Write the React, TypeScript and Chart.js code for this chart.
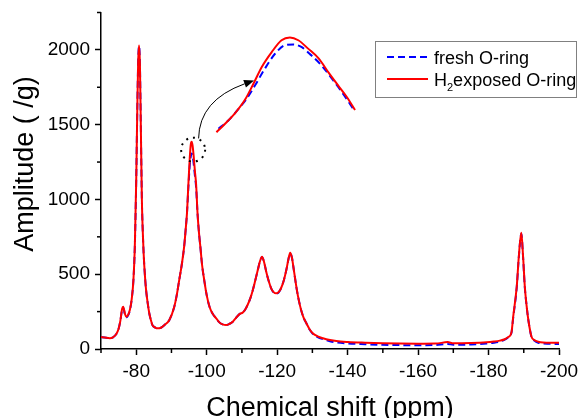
import React, { useEffect, useRef } from "react";
import { Chart, registerables } from "chart.js";

Chart.register(...registerables);

// ---- Data ----
const ppm = [
  -70.0, -71.0, -72.5, -73.5, -74.3, -75.0, -75.5, -76.0, -76.3, -76.8, -77.2, -77.7, -78.2, -78.7, -79.2, -79.6,
  -80.0, -80.3, -80.55, -80.8, -81.05, -81.3, -81.6, -81.85, -82.1, -82.5, -82.8, -83.3, -83.7, -84.2, -84.6,
  -85.3, -86.1, -87.0, -88.0, -89.4, -90.8, -91.5, -92.2, -92.9, -93.6, -94.0, -94.4, -94.8, -95.2, -95.5,
  -95.75, -96.0, -96.3, -96.65, -97.0, -97.4, -97.8, -98.2, -98.7, -99.3, -100.0, -100.8, -101.7, -102.7,
  -103.6, -104.5, -105.5, -106.4, -107.4, -108.2, -108.8, -109.5, -110.2, -110.9, -111.6, -112.4, -113.1,
  -113.8, -114.5, -115.1, -115.7, -116.3, -116.9, -117.6, -118.3, -119.0, -119.7, -120.4, -121.1, -121.9,
  -122.6, -123.2, -123.7, -124.2, -124.6, -125.1, -125.6, -126.2, -126.8, -127.5, -128.3, -129.2, -130.1,
  -131.5, -133.0, -135.0, -136.8, -140.1, -145, -150, -155, -160, -165, -168.4, -170, -175, -179.4, -181.5,
  -183.2, -184.6, -185.6, -186.5, -187.0, -188.0, -188.6, -189.3, -189.8, -190.3, -190.8, -191.3, -192.2,
  -193.0, -194.1, -197.4, -200.0,
];

const h2Exposed = [
  80, 77, 72, 80, 98, 135, 190, 270, 283, 235, 216, 228, 262, 330, 460, 684,
  1130, 1600, 1920, 2030, 1900, 1500, 1000, 790, 640, 480, 394, 300, 239, 190, 160,
  145, 138, 142, 160, 194, 283, 360, 461, 560, 684, 790, 907, 1100, 1280, 1370,
  1386, 1360, 1290, 1190, 1100, 907, 780, 684, 560, 461, 360, 283, 235, 205,
  178, 165, 160, 167, 182, 205, 221, 236, 243, 262, 294, 340, 394,
  460, 528, 585, 617, 580, 517, 455, 406, 380, 372, 380, 406, 460,
  528, 600, 644, 610, 550, 470, 394, 320, 261, 210, 172, 132, 105,
  85, 72, 60, 53, 47, 42, 38, 36, 35, 36, 46, 38, 40, 45, 50,
  56, 65, 80, 110, 216, 416, 620, 778, 620, 416, 290, 194, 82,
  60, 49, 42, 42,
];

const fresh = [
  80, 77, 72, 80, 98, 135, 190, 265, 278, 230, 212, 225, 260, 330, 460, 684,
  1130, 1600, 1920, 2025, 1900, 1500, 1000, 790, 640, 480, 394, 300, 239, 190, 160,
  145, 138, 142, 160, 194, 283, 360, 461, 560, 684, 790, 907, 1080, 1230, 1290,
  1308, 1290, 1240, 1160, 1080, 907, 780, 684, 560, 461, 360, 283, 235, 205,
  178, 165, 160, 167, 182, 205, 221, 236, 243, 262, 294, 340, 394,
  460, 528, 585, 615, 580, 517, 455, 406, 378, 370, 378, 406, 460,
  528, 600, 640, 610, 550, 470, 394, 320, 261, 210, 172, 130, 102,
  80, 66, 52, 44, 37, 32, 28, 26, 25, 27, 34, 28, 30, 36, 42,
  50, 62, 78, 108, 210, 410, 615, 770, 615, 410, 290, 194, 80,
  56, 42, 35, 34,
];

// magnified view of the -96 ppm peak top (inset)
const insetH2Ppm = [-95.02, -95.14, -95.29, -95.43, -95.55, -95.67, -95.81, -95.95, -96.07, -96.19, -96.33, -96.48, -96.62, -96.76, -96.88, -97.0];
const insetH2Amp = [1250, 1262, 1278, 1297, 1320, 1344, 1365, 1382, 1386, 1382, 1370, 1356, 1336, 1317, 1301, 1282];
const insetFreshPpm = [-95.05, -95.19, -95.33, -95.45, -95.57, -95.71, -95.86, -96.0, -96.12, -96.24, -96.38, -96.52, -96.67, -96.81, -97.0];
const insetFreshAmp = [1255, 1267, 1283, 1298, 1317, 1341, 1363, 1375, 1376, 1372, 1360, 1346, 1327, 1308, 1280];

const xMajorTicks = [-80, -100, -120, -140, -160, -180, -200];
const yMajorTicks = [0, 500, 1000, 1500, 2000];

const seriesFresh = "fresh O-ring";
const seriesH2Parts = ["H", "2", "exposed O-ring"];
const xTitle = "Chemical shift (ppm)";
const yTitle = "Amplitude ( /g)";

const FONT = "'Liberation Sans', Arial, Helvetica, sans-serif";
const RED = "#ff0000";
const BLUE = "#0000ff";

const overlayPlugin = {
  id: "overlay",
  afterDraw(chart: any) {
    const ctx = chart.ctx as CanvasRenderingContext2D;
    const { x, y, x2, y2 } = chart.scales;
    const area = chart.chartArea;
    ctx.save();

    // minor ticks
    ctx.strokeStyle = "#000";
    ctx.lineWidth = 1.5;
    for (let v = -190; v <= -70; v += 20) {
      const px = x.getPixelForValue(v);
      ctx.beginPath();
      ctx.moveTo(px, area.bottom);
      ctx.lineTo(px, area.bottom + 4);
      ctx.stroke();
    }
    for (let v = 250; v <= 2250; v += 500) {
      const py = y.getPixelForValue(v);
      ctx.beginPath();
      ctx.moveTo(area.left, py);
      ctx.lineTo(area.left - 4, py);
      ctx.stroke();
    }

    // axis titles
    ctx.fillStyle = "#000";
    ctx.font = `27px ${FONT}`;
    ctx.textAlign = "center";
    ctx.textBaseline = "alphabetic";
    ctx.fillText(xTitle, (area.left + area.right) / 2, 416);
    ctx.save();
    ctx.translate(33, 164);
    ctx.rotate(-Math.PI / 2);
    ctx.fillText(yTitle, 0, 0);
    ctx.restore();

    // dotted circle around the peak top
    const cx = x.getPixelForValue(-96.15);
    const cy = y.getPixelForValue(1333);
    ctx.setLineDash([2, 5]);
    ctx.lineWidth = 2;
    ctx.strokeStyle = "#000";
    ctx.beginPath();
    ctx.arc(cx, cy, 12, 0, Math.PI * 2);
    ctx.stroke();
    ctx.setLineDash([]);

    // curved arrow to inset
    const sx = x.getPixelForValue(-97.7);
    const sy = y.getPixelForValue(1408);
    const qx = x.getPixelForValue(-97.9);
    const qy = y.getPixelForValue(1664);
    const ex = x2.getPixelForValue(-95.557);
    const ey = y2.getPixelForValue(1324.4);
    const ang = Math.atan2(ey - qy, ex - qx);
    const hl = 10;
    const hw = 4;
    const bx = ex - hl * Math.cos(ang);
    const by = ey - hl * Math.sin(ang);
    ctx.lineWidth = 1;
    ctx.beginPath();
    ctx.moveTo(sx, sy);
    ctx.quadraticCurveTo(qx, qy, bx, by);
    ctx.stroke();
    ctx.beginPath();
    ctx.moveTo(ex, ey);
    ctx.lineTo(bx - hw * Math.sin(ang), by + hw * Math.cos(ang));
    ctx.lineTo(bx + hw * Math.sin(ang), by - hw * Math.cos(ang));
    ctx.closePath();
    ctx.fill();

    // legend
    ctx.strokeStyle = "#808080";
    ctx.lineWidth = 1;
    ctx.strokeRect(375.5, 41.5, 201, 56);
    ctx.lineWidth = 2;
    ctx.strokeStyle = BLUE;
    ctx.setLineDash([7, 4]);
    ctx.beginPath();
    ctx.moveTo(387, 57);
    ctx.lineTo(428, 57);
    ctx.stroke();
    ctx.setLineDash([]);
    ctx.strokeStyle = RED;
    ctx.beginPath();
    ctx.moveTo(387, 79);
    ctx.lineTo(428, 79);
    ctx.stroke();
    ctx.fillStyle = "#000";
    ctx.textAlign = "left";
    ctx.font = `18px ${FONT}`;
    ctx.fillText(seriesFresh, 434, 63.5);
    ctx.fillText(seriesH2Parts[0], 434, 85.5);
    const hW = ctx.measureText(seriesH2Parts[0]).width;
    ctx.font = `11px ${FONT}`;
    ctx.fillText(seriesH2Parts[1], 434 + hW, 91);
    const sW = ctx.measureText(seriesH2Parts[1]).width;
    ctx.font = `18px ${FONT}`;
    ctx.fillText(seriesH2Parts[2], 434 + hW + sW, 85.5);

    ctx.restore();
  },
};

export default function App() {
  const ref = useRef<HTMLCanvasElement | null>(null);

  useEffect(() => {
    if (!ref.current) return;
    const lineCommon = {
      pointRadius: 0,
      borderWidth: 2,
      fill: false,
      cubicInterpolationMode: "monotone" as const,
    };
    const chart = new Chart(ref.current, {
      type: "line",
      data: {
        datasets: [
          {
            ...lineCommon,
            label: "H2exposed O-ring",
            data: ppm.map((p, i) => ({ x: p, y: h2Exposed[i] })),
            borderColor: RED,
            xAxisID: "x",
            yAxisID: "y",
          },
          {
            ...lineCommon,
            label: seriesFresh,
            data: ppm.map((p, i) => ({ x: p, y: fresh[i] })),
            borderColor: BLUE,
            borderDash: [7, 4],
            xAxisID: "x",
            yAxisID: "y",
          },
          {
            ...lineCommon,
            label: "inset H2",
            data: insetH2Ppm.map((p, i) => ({ x: p, y: insetH2Amp[i] })),
            borderColor: RED,
            xAxisID: "x2",
            yAxisID: "y2",
          },
          {
            ...lineCommon,
            label: "inset fresh",
            data: insetFreshPpm.map((p, i) => ({ x: p, y: insetFreshAmp[i] })),
            borderColor: BLUE,
            borderDash: [7, 4],
            xAxisID: "x2",
            yAxisID: "y2",
          },
        ],
      },
      options: {
        animation: false,
        responsive: false,
        layout: { padding: { top: 12.5, right: 20, left: 0, bottom: 0 } },
        plugins: { legend: { display: false }, tooltip: { enabled: false } },
        scales: {
          x: {
            type: "linear",
            position: "bottom",
            min: -200,
            max: -70,
            reverse: true,
            border: { display: true, color: "#000", width: 1.5 },
            grid: {
              drawOnChartArea: false,
              drawTicks: true,
              tickLength: 6,
              tickWidth: 1.5,
              tickColor: (c: any) =>
                c.tick && xMajorTicks.includes(c.tick.value) ? "#000" : "rgba(0,0,0,0)",
            },
            ticks: {
              stepSize: 10,
              autoSkip: false,
              maxRotation: 0,
              padding: 5,
              color: "#000",
              font: { family: FONT, size: 19 },
              callback: (v: any) => (xMajorTicks.includes(Number(v)) ? String(v) : ""),
            },
            afterFit: (s: any) => {
              s.height = 69;
              s.paddingLeft = 0;
              s.paddingRight = 0;
            },
          },
          y: {
            type: "linear",
            position: "left",
            min: 0,
            max: 2250,
            border: { display: true, color: "#000", width: 1.5 },
            grid: {
              drawOnChartArea: false,
              drawTicks: true,
              tickLength: 6,
              tickWidth: 1.5,
              tickColor: (c: any) =>
                c.tick && yMajorTicks.includes(c.tick.value) ? "#000" : "rgba(0,0,0,0)",
            },
            ticks: {
              stepSize: 250,
              autoSkip: false,
              padding: 5,
              color: "#000",
              font: { family: FONT, size: 19 },
              callback: (v: any) => (yMajorTicks.includes(Number(v)) ? String(v) : ""),
            },
            afterFit: (s: any) => {
              s.width = 101;
              s.paddingTop = 0;
              s.paddingBottom = 0;
            },
          },
          x2: {
            type: "linear",
            display: false,
            min: -99.914,
            max: -93.371,
            reverse: true,
          },
          y2: {
            type: "linear",
            display: false,
            min: 939.3,
            max: 1421.8,
          },
        },
      },
      plugins: [overlayPlugin],
    });
    return () => chart.destroy();
  }, []);

  return (
    <div style={{ position: "fixed", left: 0, top: 0, width: 579, height: 418, background: "#fff" }}>
      <canvas ref={ref} width={579} height={418} style={{ display: "block" }} />
    </div>
  );
}
